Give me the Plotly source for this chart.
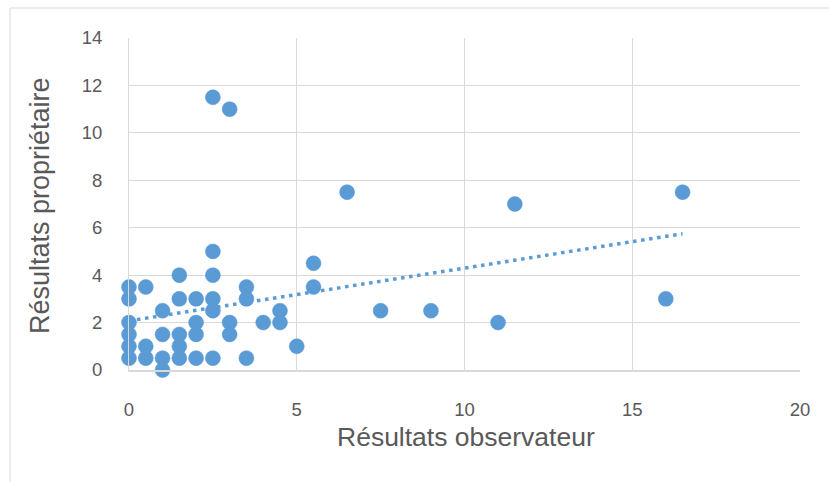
import numpy as np
import plotly.graph_objects as go

# Data
obs = [0, 0, 0, 0, 0, 0,
       0.5, 0.5, 0.5,
       1, 1, 1, 1,
       1.5, 1.5, 1.5, 1.5, 1.5,
       2, 2, 2, 2,
       2.5, 2.5, 2.5, 2.5, 2.5, 2.5,
       3, 3, 3,
       3.5, 3.5, 3.5,
       4,
       4.5, 4.5,
       5,
       5.5, 5.5,
       6.5, 7.5, 9, 11, 11.5, 16, 16.5]
prop = [3.5, 3, 2, 1.5, 1, 0.5,
        3.5, 1, 0.5,
        2.5, 1.5, 0.5, 0,
        4, 3, 1.5, 1, 0.5,
        3, 2, 1.5, 0.5,
        11.5, 5, 4, 3, 2.5, 0.5,
        11, 2, 1.5,
        3.5, 3, 0.5,
        2,
        2.5, 2,
        1,
        4.5, 3.5,
        7.5, 2.5, 2.5, 2, 7, 3, 7.5]

x_ticks = [0, 5, 10, 15, 20]
y_ticks = [0, 2, 4, 6, 8, 10, 12, 14]

x_title = "Résultats observateur"
y_title = "Résultats propriétaire"

blue = "#5B9BD5"
grid = "#D9D9D9"
txt = "#595959"

# Linear trendline (least squares) over the data range
slope, intercept = np.polyfit(obs, prop, 1)
tx = np.array([min(obs), max(obs)])
ty = slope * tx + intercept

fig = go.Figure()
fig.add_trace(go.Scatter(
    x=tx, y=ty, mode="lines",
    line=dict(color=blue, width=3.5, dash="3.5px,4.6px"),
    hoverinfo="skip", showlegend=False, cliponaxis=False))
fig.add_trace(go.Scatter(
    x=obs, y=prop, mode="markers",
    marker=dict(color=blue, size=15, line=dict(color=blue, width=0.5)),
    showlegend=False, cliponaxis=False))

L, R, T, B = 129, 29, 38, 112
W, H = 829, 482
pw, ph = W - L - R, H - T - B

fig.update_layout(
    width=W, height=H,
    margin=dict(l=L, r=R, t=T, b=B, pad=0),
    paper_bgcolor="white", plot_bgcolor="white",
    font=dict(family="Liberation Sans, Arial, sans-serif", color=txt),
    xaxis=dict(range=[0, 20], tickvals=x_ticks, showgrid=True, gridcolor=grid,
               gridwidth=1, zeroline=False, showline=True, linecolor=grid,
               linewidth=1.5, mirror=False, tickfont=dict(size=18.5, color=txt),
               ticks="", ticklabelstandoff=22, fixedrange=True),
    yaxis=dict(range=[0, 14], tickvals=y_ticks, showgrid=True, gridcolor=grid,
               gridwidth=1, zeroline=False, showline=True, linecolor=grid,
               linewidth=1, tickfont=dict(size=18.5, color=txt),
               ticks="", ticklabelstandoff=22, fixedrange=True),
    shapes=[dict(type="rect", xref="paper", yref="paper",
                 x0=(10 - L) / pw, x1=(W + 10 - L) / pw,
                 y0=-(B + 20) / ph, y1=1 + (T - 8) / ph,
                 line=dict(color=grid, width=1), fillcolor="rgba(0,0,0,0)",
                 layer="below")],
    annotations=[
        dict(text=x_title, xref="paper", yref="paper",
             x=(466 - L) / pw, y=-(437 - (H - B)) / ph,
             showarrow=False, xanchor="center", yanchor="middle",
             font=dict(size=26.5, color=txt)),
        dict(text=y_title, xref="paper", yref="paper",
             x=(40 - L) / pw, y=((H - B) - 206) / ph,
             showarrow=False, xanchor="center", yanchor="middle",
             textangle=-90, font=dict(size=27, color=txt)),
    ],
)

fig.write_html("out.html", config={"displayModeBar": False},
               post_script="document.body.style.margin='0';"
                           "document.body.style.overflow='hidden';")
